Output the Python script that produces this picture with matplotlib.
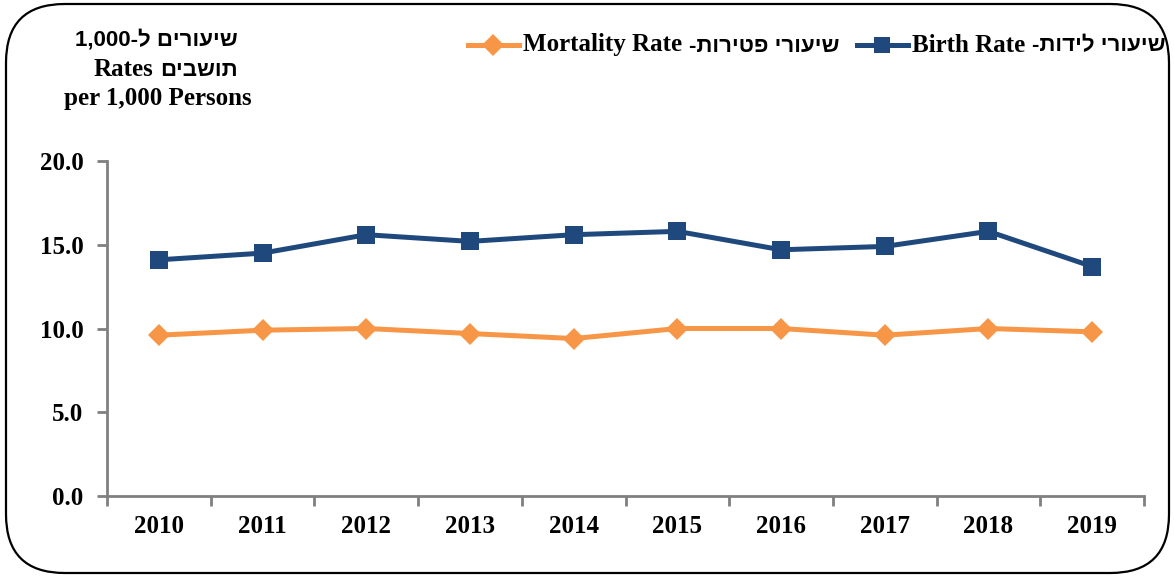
import matplotlib
matplotlib.use("Agg")
import matplotlib.pyplot as plt
from matplotlib.patches import FancyBboxPatch
from matplotlib.lines import Line2D
from matplotlib.offsetbox import (TextArea, HPacker, AnchoredOffsetbox,
                                  DrawingArea)

years = ["2010", "2011", "2012", "2013", "2014", "2015", "2016", "2017", "2018", "2019"]
birth_rate = [14.1, 14.5, 15.6, 15.2, 15.6, 15.8, 14.7, 14.9, 15.8, 13.7]
mortality_rate = [9.6, 9.9, 10.0, 9.7, 9.4, 10.0, 10.0, 9.6, 10.0, 9.8]
yticks = [0, 5, 10, 15, 20]

# Hebrew strings in visual order (matplotlib has no bidi)
birth_en, birth_he = "Birth Rate", "-" + "שיעורי לידות"[::-1]
mort_en, mort_he = "Mortality Rate", "-" + "שיעורי פטירות"[::-1]
title1_he = "1,000-" + "ל" + " " + "שיעורים"[::-1]
title2_en, title2_he = "Rates", "תושבים"[::-1]
title3_en = "per 1,000 Persons"

SERIF = ["Liberation Serif", "DejaVu Serif"]
HEB = ["Liberation Sans", "DejaVu Sans"]
BLUE = "#1F497D"
ORANGE = "#F79646"
GRAY = "#808080"
FS = 18
HFS = 16

W, H = 1174, 577
fig = plt.figure(figsize=(W / 100, H / 100), dpi=100)

frame = FancyBboxPatch((6 / W, 4 / H), (1163 / W), (569 / H),
                       boxstyle="round,pad=0,rounding_size=0.05",
                       transform=fig.transFigure, fill=False,
                       edgecolor="black", linewidth=1.6,
                       mutation_aspect=W / H)
fig.patches.append(frame)

ax = fig.add_axes([107 / W, 1 - 496 / H, (1144 - 107) / W, (496 - 161) / H])
x = list(range(len(years)))
ax.plot(x, birth_rate, color=BLUE, linewidth=3.6, marker="s",
        markersize=13, markeredgewidth=0, zorder=3)
ax.plot(x, mortality_rate, color=ORANGE, linewidth=3.6, marker="D",
        markersize=11.5, markeredgewidth=0, zorder=3)

ax.set_xlim(-0.5, len(years) - 0.5)
ax.set_ylim(0, 20)
ax.set_yticks(yticks)
ax.set_yticklabels([f"{v:.1f}" for v in yticks], fontfamily=SERIF,
                   fontweight="bold", fontsize=FS)
ax.set_xticks(x)
ax.set_xticklabels(years, fontfamily=SERIF, fontweight="bold", fontsize=FS)
ax.set_xticks([i - 0.5 for i in range(len(years) + 1)], minor=True)
ax.tick_params(axis="x", which="major", length=0, pad=14)
ax.tick_params(axis="x", which="minor", length=7, width=2, color=GRAY,
               direction="out")
ax.tick_params(axis="y", length=7, width=2, color=GRAY, direction="out", pad=10)
for s in ["top", "right"]:
    ax.spines[s].set_visible(False)
for s in ["left", "bottom"]:
    ax.spines[s].set_color(GRAY)
    ax.spines[s].set_linewidth(2)


def txt(s, fam, size=FS):
    return TextArea(s, textprops=dict(fontfamily=fam, fontweight="bold",
                                      fontsize=size, color="black"))


def handle(color, marker, ms):
    da = DrawingArea(37, 14, 0, 0)
    da.add_artist(Line2D([0, 37], [7, 7], color=color, linewidth=3.6))
    da.add_artist(Line2D([18.5], [7], color=color, marker=marker,
                         markersize=ms, markeredgewidth=0, linestyle="none"))
    return da


def row(children, sep):
    return HPacker(children=children, pad=0, sep=sep, align="baseline")


legend_box = HPacker(children=[
    handle(ORANGE, "D", 11),
    row([txt(mort_en, SERIF), txt(mort_he, HEB, HFS)], 5),
    TextArea("  "),
    handle(BLUE, "s", 12),
    row([txt(birth_en, SERIF), txt(birth_he, HEB, HFS)], 5),
], pad=0, sep=3, align="center")
fig.add_artist(AnchoredOffsetbox(loc="center right", child=legend_box,
                                 bbox_to_anchor=(1166 / W, 1 - 45 / H),
                                 bbox_transform=fig.transFigure,
                                 frameon=False, pad=0, borderpad=0))


def place(children, xr, yc, sep=5):
    box = HPacker(children=children, pad=0, sep=sep, align="baseline")
    fig.add_artist(AnchoredOffsetbox(loc="center right", child=box,
                                     bbox_to_anchor=(xr / W, 1 - yc / H),
                                     bbox_transform=fig.transFigure,
                                     frameon=False, pad=0, borderpad=0))


place([txt(title1_he, HEB, HFS)], 238, 40)
place([txt(title2_en, SERIF), txt(title2_he, HEB, HFS)], 238, 70)
place([txt(title3_en, SERIF)], 252, 99)

fig.savefig("out.png", dpi=100)
